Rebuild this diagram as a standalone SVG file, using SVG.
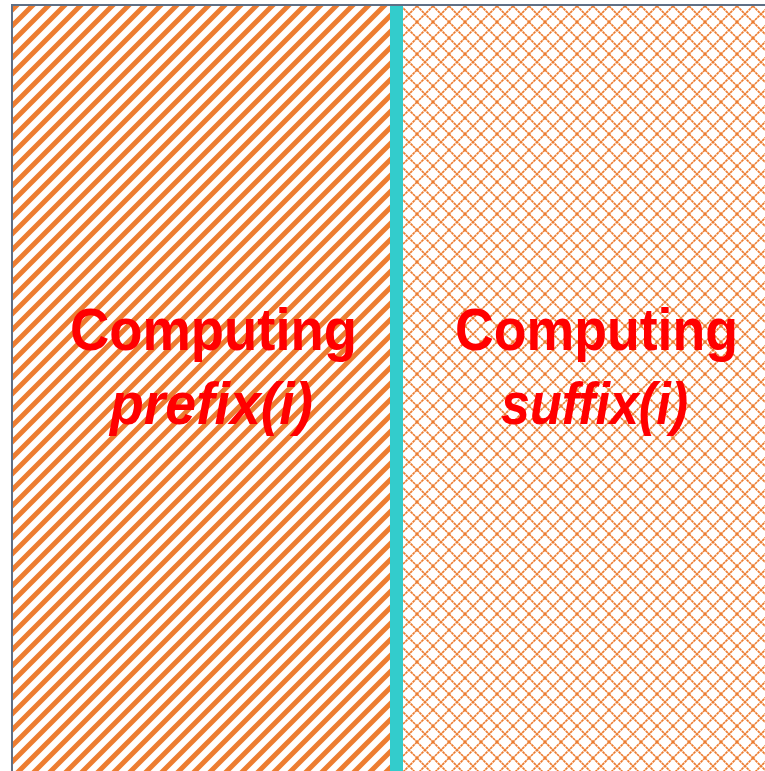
<svg xmlns="http://www.w3.org/2000/svg" width="765" height="771" viewBox="0 0 765 771">
<defs>
<pattern id="stripes" patternUnits="userSpaceOnUse" x="0" y="6" width="16" height="16">
<rect width="16" height="16" fill="#ffffff"/>
<path d="M-4,4 L4,-4 M0,16 L16,0 M12,20 L20,12" stroke="#ED7D31" stroke-width="5" fill="none"/>
</pattern>
<pattern id="diamonds" patternUnits="userSpaceOnUse" x="1" y="6" width="16" height="16">
<rect width="16" height="16" fill="#ffffff"/>
<path d="M0,0 L16,16 M16,0 L0,16" stroke="#ED7D31" stroke-width="1.7" fill="none" stroke-dasharray="2.8 0.6"/>
</pattern>
<style>
.t{font-family:"Liberation Sans",Arial,sans-serif;font-weight:bold;fill:#FF0000;font-size:59px}
.i{font-style:italic}
</style>
</defs>
<g id="left-panel">
<rect x="12" y="5" width="378" height="770" fill="url(#stripes)"/>
<text class="t" x="70" y="350" textLength="287" lengthAdjust="spacingAndGlyphs">Computing</text>
<text class="t i" x="110" y="424" textLength="203" lengthAdjust="spacingAndGlyphs">prefix(i)</text>
</g>
<g id="divider">
<rect x="390" y="5" width="13" height="770" fill="#33CCCC"/>
</g>
<g id="right-panel">
<rect x="403" y="5" width="370" height="770" fill="url(#diamonds)"/>
<text class="t" x="455" y="350" textLength="283" lengthAdjust="spacingAndGlyphs">Computing</text>
<text class="t i" x="501" y="424" textLength="187" lengthAdjust="spacingAndGlyphs">suffix(i)</text>
</g>
<g id="frame">
<rect x="12" y="5" width="800" height="800" fill="none" stroke="#5F6F85" stroke-width="2"/>
</g>
</svg>
